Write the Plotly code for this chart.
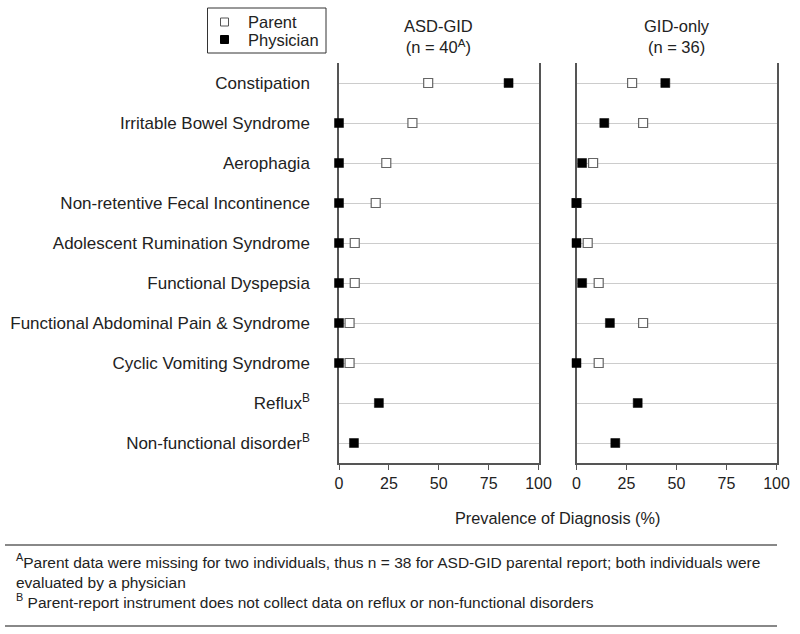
import plotly.graph_objects as go

categories = ["Constipation", "Irritable Bowel Syndrome", "Aerophagia",
              "Non-retentive Fecal Incontinence", "Adolescent Rumination Syndrome",
              "Functional Dyspepsia", "Functional Abdominal Pain & Syndrome",
              "Cyclic Vomiting Syndrome", "Reflux<sup>B</sup>", "Non-functional disorder<sup>B</sup>"]

asd_parent = [44.7, 36.8, 23.7, 18.4, 7.9, 7.9, 5.3, 5.3, None, None]
asd_physician = [85.0, 0.0, 0.0, 0.0, 0.0, 0.0, 0.0, 0.0, 20.0, 7.5]
gid_parent = [27.8, 33.3, 8.3, 0.0, 5.6, 11.1, 33.3, 11.1, None, None]
gid_physician = [44.4, 13.9, 2.8, 0.0, 0.0, 2.8, 16.7, 0.0, 30.6, 19.4]

x_ticks = [0, 25, 50, 75, 100]
panel_titles = ["ASD-GID<br>(n = 40<sup>A</sup>)", "GID-only<br>(n = 36)"]
legend_labels = ["Parent", "Physician"]

W, H = 800, 634
def px(x): return x / W
def py(y): return 1 - y / H

ypos = list(range(len(categories)))
FONT = "Liberation Sans, Arial, Helvetica, sans-serif"
TXT = "#222222"
AXC = "#555555"
MS = 9

fig = go.Figure()
for i, (par, phy) in enumerate([(asd_parent, asd_physician), (gid_parent, gid_physician)]):
    xa = "x" if i == 0 else "x2"
    ya = "y" if i == 0 else "y2"
    fig.add_trace(go.Scatter(x=par, y=ypos, mode="markers", name=legend_labels[0],
                             showlegend=False, xaxis=xa, yaxis=ya, cliponaxis=False,
                             marker=dict(symbol="square", size=MS, color="white",
                                         line=dict(color="#666666", width=1.2))))
    fig.add_trace(go.Scatter(x=phy, y=ypos, mode="markers", name=legend_labels[1],
                             showlegend=False, xaxis=xa, yaxis=ya, cliponaxis=False,
                             marker=dict(symbol="square", size=MS, color="black",
                                         line=dict(color="black", width=0.5))))

xdoms = [[px(339), px(538.5)], [px(576.5), px(776.5)]]
ydom = [py(463), py(63)]

axis_common_x = dict(range=[0, 100], tickvals=x_ticks, ticks="outside", ticklen=5,
                     tickcolor=AXC, tickwidth=1.3, showline=True, linecolor=AXC,
                     linewidth=1.5, showgrid=False, zeroline=False, layer="below traces",
                     tickfont=dict(size=16, color=TXT, family=FONT))
axis_common_y = dict(range=[len(categories) - 0.5, -0.5], tickvals=ypos,
                     showline=True, mirror=True, linecolor=AXC, linewidth=1.5,
                     showgrid=True, gridcolor="#cccccc", gridwidth=1, zeroline=False,
                     layer="below traces", domain=ydom)

fig.update_layout(
    width=W, height=H, margin=dict(l=0, r=0, t=0, b=0, autoexpand=False),
    paper_bgcolor="white", plot_bgcolor="white",
    font=dict(family=FONT, color=TXT, size=16),
    xaxis=dict(domain=xdoms[0], anchor="y", **axis_common_x),
    xaxis2=dict(domain=xdoms[1], anchor="y2", **axis_common_x),
    yaxis=dict(anchor="x", ticktext=categories, ticks="", ticklabelstandoff=24,
               tickfont=dict(size=17, color=TXT, family=FONT), **axis_common_y),
    yaxis2=dict(anchor="x2", showticklabels=False, ticks="", **axis_common_y),
    showlegend=False,
)

annotations = []
for i, t in enumerate(panel_titles):
    annotations.append(dict(text=t, x=(xdoms[i][0] + xdoms[i][1]) / 2, y=py(37),
                            xref="paper", yref="paper", showarrow=False,
                            xanchor="center", yanchor="middle",
                            font=dict(size=16.5, color=TXT, family=FONT)))
annotations.append(dict(text="Prevalence of Diagnosis (%)", x=px(557), y=py(518),
                        xref="paper", yref="paper", showarrow=False,
                        xanchor="center", yanchor="middle",
                        font=dict(size=16.3, color=TXT, family=FONT)))
# legend text
for lbl, yy in zip(legend_labels, [22, 39.5]):
    annotations.append(dict(text=lbl, x=px(246), y=py(yy), xref="paper", yref="paper",
                            showarrow=False, xanchor="left", yanchor="middle",
                            font=dict(size=16.5, color=TXT, family=FONT)))
foot = ("<sup>A</sup>Parent data were missing for two individuals, thus n = 38 for ASD-GID parental report; both individuals were<br>"
        "evaluated by a physician<br>"
        "<sup>B</sup> Parent-report instrument does not collect data on reflux or non-functional disorders")
annotations.append(dict(text=foot, x=px(14), y=py(549), xref="paper", yref="paper",
                        showarrow=False, xanchor="left", yanchor="top", align="left",
                        font=dict(size=15.5, color=TXT, family=FONT)))
fig.update_layout(annotations=annotations)

fig.update_layout(shapes=[
    dict(type="line", xref="paper", yref="paper", x0=px(5), x1=px(777), y0=py(545), y1=py(545),
         line=dict(color="#888888", width=2)),
    dict(type="line", xref="paper", yref="paper", x0=px(5), x1=px(777), y0=py(626), y1=py(626),
         line=dict(color="#888888", width=2)),
    # legend box and swatches
    dict(type="rect", xref="paper", yref="paper", x0=px(207.5), x1=px(326), y0=py(8), y1=py(53),
         line=dict(color="#333333", width=1), fillcolor="white"),
    dict(type="rect", xref="paper", yref="paper", x0=px(220.5), x1=px(228.5), y0=py(18), y1=py(26),
         line=dict(color="#555555", width=1), fillcolor="white"),
    dict(type="rect", xref="paper", yref="paper", x0=px(220.5), x1=px(228.5), y0=py(35.5), y1=py(43.5),
         line=dict(color="black", width=1), fillcolor="black"),
])

fig.write_html("out.html", config={"displayModeBar": False},
               post_script="document.body.style.margin='0';")
